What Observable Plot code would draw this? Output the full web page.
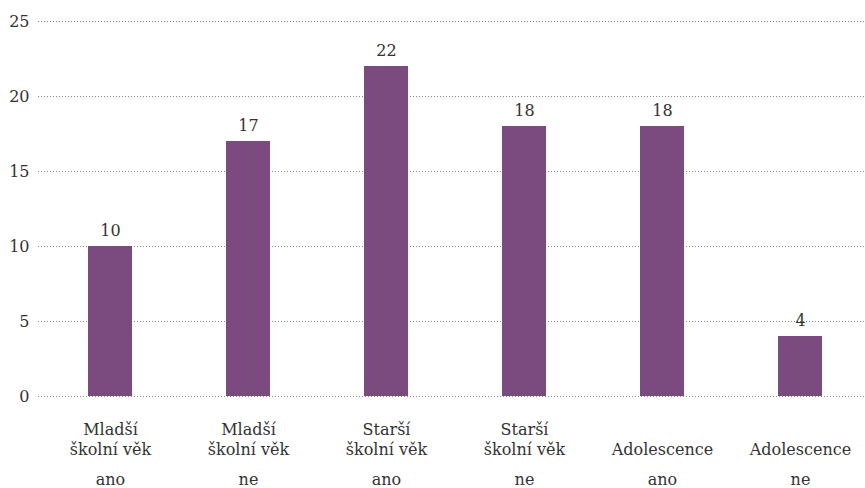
<!DOCTYPE html>
<html>
<head>
<meta charset="utf-8">
<script src="https://cdn.jsdelivr.net/npm/d3@7"></script>
<script src="https://cdn.jsdelivr.net/npm/@observablehq/plot@0.6"></script>
<style>
  html, body { margin: 0; padding: 0; background: #fff; }
  svg { display: block; }
</style>
</head>
<body>
<div id="chart"></div>
<script>
const groups = ["Mladší\nškolní věk", "Mladší\nškolní věk", "Starší\nškolní věk", "Starší\nškolní věk", "Adolescence", "Adolescence"];
const answers = ["ano", "ne", "ano", "ne", "ano", "ne"];
const values = [10, 17, 22, 18, 18, 4];
const yTicks = [0, 5, 10, 15, 20, 25];

const data = groups.map((g, i) => ({ key: i, group: g, answer: answers[i], value: values[i] }));
const keys = data.map(d => d.key);

const font = "DejaVu Serif";
const fs = 16;
const chart = Plot.plot({
  width: 865,
  height: 488,
  marginLeft: 38,
  marginRight: 0,
  marginTop: 21,
  marginBottom: 92,
  style: { fontFamily: font, fontSize: fs + "px", color: "#333", background: "#fff" },
  x: { domain: keys, range: [38.5, 872], paddingInner: 0.68, paddingOuter: 0.34, axis: null },
  y: { domain: [0, 25], axis: null },
  marks: [
    Plot.gridY(yTicks, { stroke: "#888", strokeOpacity: 1, strokeDasharray: "1,2" }),
    Plot.axisY(yTicks, { tickSize: 0, tickPadding: 9, fontSize: fs, fill: "#333", label: null }),
    Plot.barY(data, { x: "key", y: "value", fill: "#7b4a7e" }),
    Plot.text(data, { x: "key", y: "value", text: d => String(d.value), dy: -16, fill: "#333", fontSize: fs }),
    Plot.text(data, { x: "key", y: 0, text: "group", lineAnchor: "bottom", lineHeight: 1.25, dy: 58, fill: "#333", fontSize: fs }),
    Plot.text(data, { x: "key", y: 0, text: "answer", dy: 83, fill: "#333", fontSize: fs })
  ]
});
document.getElementById("chart").appendChild(chart);
</script>
</body>
</html>
